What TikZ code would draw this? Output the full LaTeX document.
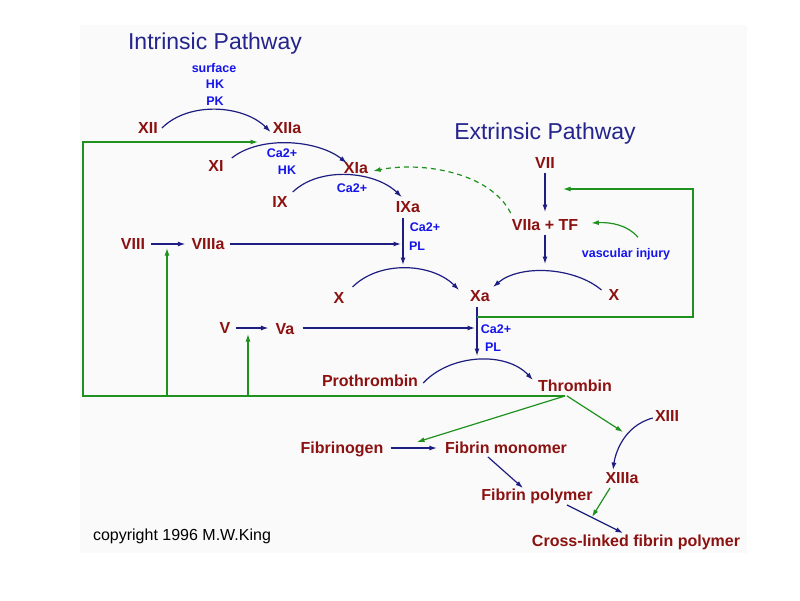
\documentclass[tikz,border=0pt]{standalone}
\usepackage{fontspec}
\setmainfont{Liberation Sans}
\usetikzlibrary{arrows.meta}
\definecolor{labred}{RGB}{140,18,18}
\definecolor{titleblue}{RGB}{36,36,140}
\definecolor{cofblue}{RGB}{20,20,235}
\definecolor{arrowblue}{RGB}{30,30,130}
\definecolor{fbgreen}{RGB}{30,145,30}
\definecolor{panel}{RGB}{250,250,250}
\begin{document}
\begin{tikzpicture}[x=1pt,y=-1pt,
 lab/.style={font=\bfseries\fontsize{16}{16}\selectfont,text=labred,inner sep=1pt,text height=11.5pt,text depth=0pt},
 cof/.style={font=\bfseries\fontsize{12.5}{12.5}\selectfont,text=cofblue,inner sep=1pt,text height=9pt,text depth=0pt},
 ttl/.style={font=\fontsize{23}{23}\selectfont,text=titleblue,inner sep=1pt},
 note/.style={font=\fontsize{16}{16}\selectfont,text=black,inner sep=1pt},
 rx/.style={draw=arrowblue,line width=1.2pt,-{Latex[length=7.5pt,width=5pt]}},
 fba/.style={draw=fbgreen,line width=1.2pt,-{Latex[length=7.5pt,width=5pt]}},
 fbd/.style={fba,dash pattern=on 5pt off 4pt},
]
\useasboundingbox (0,0) rectangle (800,600);
\fill[panel] (80,25) rectangle (747,553);

% titles
\node[ttl] (intr) at (215,44) {Intrinsic Pathway};
\node[ttl] (extr) at (545,134) {Extrinsic Pathway};
\node[note] (copy) at (182,536) {copyright 1996 M.W.King};

% factors
\node[lab] (XII) at (148,128) {XII};
\node[lab] (XIIa) at (287,128) {XIIa};
\node[lab] (XI) at (216,166) {XI};
\node[lab] (XIa) at (356,168) {XIa};
\node[lab] (IX) at (280,202) {IX};
\node[lab] (IXa) at (408,207) {IXa};
\node[lab] (VIII) at (133,244) {VIII};
\node[lab] (VIIIa) at (208,244) {VIIIa};
\node[lab] (Xl) at (339,298) {X};
\node[lab] (Xa) at (480,296) {Xa};
\node[lab] (Xr) at (614,295) {X};
\node[lab] (VII) at (545,163) {VII};
\node[lab] (VIIa) at (545,225) {VIIa + TF};
\node[lab] (V) at (225,328) {V};
\node[lab] (Va) at (285,329) {Va};
\node[lab] (Pro) at (370,381) {Prothrombin};
\node[lab] (Thr) at (575,386) {Thrombin};
\node[lab] (XIII) at (667,416) {XIII};
\node[lab] (Fgn) at (342,448) {Fibrinogen};
\node[lab] (Fmo) at (506,448) {Fibrin monomer};
\node[lab] (XIIIa) at (622,478) {XIIIa};
\node[lab] (Fpo) at (537,495) {Fibrin polymer};
\node[lab] (Xlk) at (636,541) {Cross-linked fibrin polymer};

% cofactors
\node[cof] (surf) at (214,68) {surface};
\node[cof] (hk1) at (215,84) {HK};
\node[cof] (pk) at (215,101) {PK};
\node[cof] (ca1) at (282,153) {Ca2+};
\node[cof] (hk2) at (287,170) {HK};
\node[cof] (ca2) at (352,188) {Ca2+};
\node[cof] (ca3) at (425,227) {Ca2+};
\node[cof] (pl3) at (417,246) {PL};
\node[cof] (ca4) at (496,329) {Ca2+};
\node[cof] (pl4) at (493,347) {PL};
\node[cof] (vi) at (626,253) {vascular injury};

% free ends
\coordinate (rtop) at (545,264);
\coordinate (ixtip) at (403,265);
\coordinate (xatip) at (477,356);
\coordinate (ix8) at (401,244);
\coordinate (xa5) at (475,328);
\coordinate (fbXI) at (258,142);
\coordinate (lcx) at (83,142);
\coordinate (m8) at (167,248);
\coordinate (m5) at (248,334);
\coordinate (xag) at (477,317);
\coordinate (rt) at (563,189);
\coordinate (fgtip) at (417,442);
\coordinate (x13tip) at (623,432);
\coordinate (xltip) at (592,517);
\coordinate (thr) at ([shift={(-10pt,-3pt)}]Thr.south);

% reaction arcs
\draw[rx] ([xshift=3pt]XII.east) .. controls +(27,-27) and +(-27,-27) .. ([shift={(-1pt,-4pt)}]XIIa.west);
\draw[rx] ([shift={(7pt,8pt)}]XI.east) .. controls +(29,-23) and +(-29,-23) .. ([shift={(4pt,5pt)}]XIa.west);
\draw[rx] ([shift={(4pt,10pt)}]IX.east) .. controls +(27,-26) and +(-27,-26) .. ([shift={(7pt,3pt)}]IXa.north west);
\draw[rx] ([shift={(7pt,11pt)}]Xl.east) .. controls +(27,-27) and +(-27,-27) .. ([shift={(-10pt,-1pt)}]Xa.north west);
\draw[rx] ([shift={(-6pt,5pt)}]Xr.west) .. controls +(-27,-23) and +(27,-23) .. ([shift={(2pt,2pt)}]Xa.north east);
\draw[rx] ([shift={(4pt,-2pt)}]Pro.east) .. controls +(27,-29) and +(-27,-29) .. ([shift={(-4pt,6pt)}]Thr.west);
\draw[rx] ([shift={(-1pt,-2pt)}]XIII.west) .. controls +(-30,8) and +(2,-15) .. ([shift={(-9pt,1pt)}]XIIIa.north);

% straight activation arrows
\draw[rx] ([yshift=-3pt]VII.south) -- ([yshift=6pt]VIIa.north);
\draw[rx] ([yshift=-3pt]VIIa.south) -- (rtop);
\draw[rx] ([shift={(-5pt,-4pt)}]IXa.south) -- (ixtip);
\draw[rx] ([shift={(-3pt,-4pt)}]Xa.south) -- (xatip);
\draw[rx] ([xshift=5pt]VIII.east) -- ([xshift=-5pt]VIIIa.west);
\draw[rx] ([xshift=4pt]VIIIa.east) -- (ix8);
\draw[rx] ([xshift=4pt]V.east) -- ([xshift=-6pt]V.east -| Va.west);
\draw[rx] ([xshift=7pt]Va.east |- xa5) -- (xa5);
\draw[rx] ([xshift=6pt]Fgn.east) -- ([xshift=-7pt]Fmo.west);
\draw[rx] ([shift={(-18pt,-2pt)}]Fmo.south) -- ([xshift=-14pt]Fpo.north);
\draw[rx] ([shift={(30pt,-3pt)}]Fpo.south) -- ([shift={(-13pt,1pt)}]Xlk.north);

% feedback (green)
\draw[fba] (thr) -- (thr -| lcx) -- (lcx) -- (fbXI);
\draw[fba] (m8 |- thr) -- (m8);
\draw[fba] (m5 |- thr) -- (m5);
\draw[fba] (xag) -- ++(216,0) |- (rt);
\draw[fba] (thr) -- (fgtip);
\draw[fba] ([xshift=2pt]thr) -- (x13tip);
\draw[fba] ([shift={(-12pt,-3pt)}]XIIIa.south) -- (xltip);
\draw[fba] ([shift={(12pt,10pt)}]vi.north) .. controls +(-10,-12) and +(20,-1) .. ([shift={(12pt,2pt)}]VIIa.east);
\draw[fbd] ([yshift=5pt]VIIa.north west) .. controls +(-20,-40) and +(50,-10) .. ([shift={(4pt,-3pt)}]XIa.east);
\end{tikzpicture}
\end{document}
